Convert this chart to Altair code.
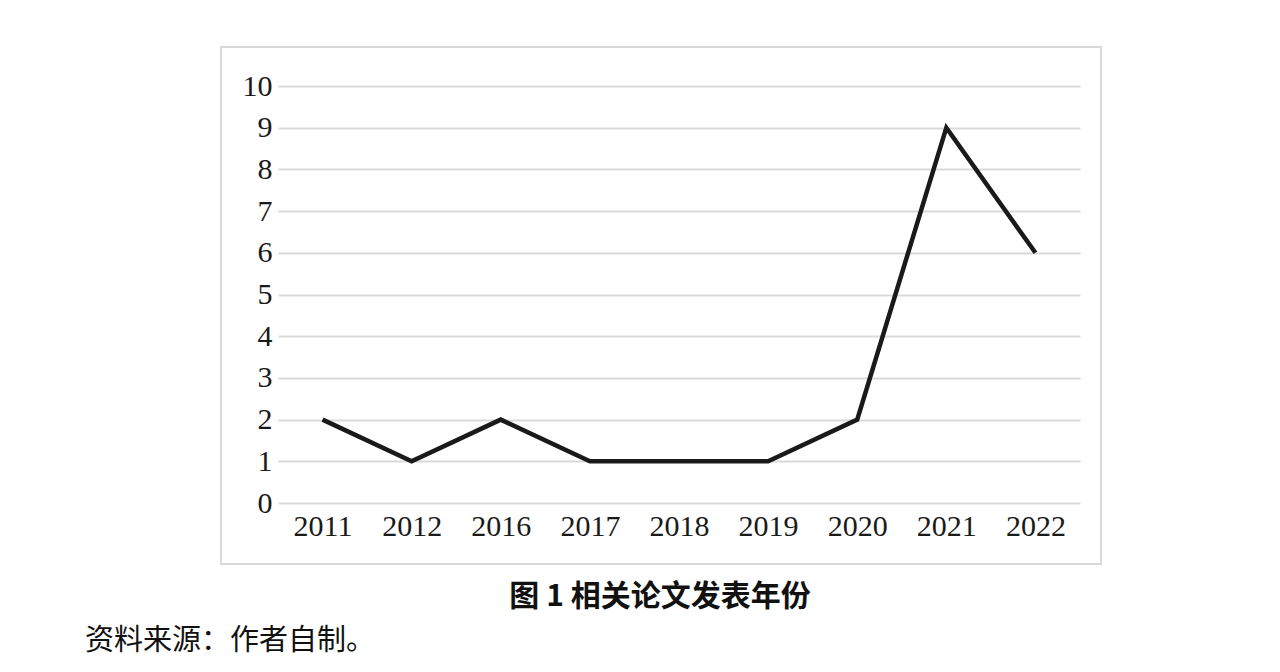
import altair as alt
import pandas as pd

years = ["2011", "2012", "2016", "2017", "2018", "2019", "2020", "2021", "2022"]
counts = [2, 1, 2, 1, 1, 1, 2, 9, 6]
y_ticks = list(range(0, 11))
caption = "图 1 相关论文发表年份"
source = "资料来源：作者自制。"

df = pd.DataFrame({"year": years, "count": counts})

W, H = 802, 417
SERIF = "Liberation Serif"
CJK = "Noto Sans CJK SC"

base = alt.Chart(df)

frame = base.mark_rect(fillOpacity=0, stroke="#d9d9d9", strokeWidth=2).encode(
    x=alt.value(-57), x2=alt.value(823), y=alt.value(-39), y2=alt.value(478)
)

line = base.mark_line(color="#1a1a1a", strokeWidth=4.5, strokeJoin="miter").encode(
    x=alt.X("year:N", sort=years, title=None,
            scale=alt.Scale(type="point", padding=0.5),
            axis=alt.Axis(labelAngle=0, labelFont=SERIF, labelFontSize=30,
                          labelColor="#1a1a1a", labelPadding=8, ticks=False,
                          domain=False, grid=False)),
    y=alt.Y("count:Q", title=None,
            scale=alt.Scale(domain=[0, 10], nice=False),
            axis=alt.Axis(values=y_ticks, labelFont=SERIF, labelFontSize=30,
                          labelColor="#1a1a1a", labelPadding=6, ticks=False,
                          domain=False, grid=True, gridColor="#d9d9d9",
                          gridWidth=2)),
)

cap = alt.Chart(pd.DataFrame({"t": [caption]})).mark_text(
    font=CJK, fontSize=30, fontWeight="bold", color="#111111", align="center", baseline="middle"
).encode(text="t:N", x=alt.value(382), y=alt.value(511))

src = alt.Chart(pd.DataFrame({"t": [source]})).mark_text(
    font=CJK, fontSize=29, color="#111111", align="left", baseline="middle"
).encode(text="t:N", x=alt.value(-193), y=alt.value(555))

chart = alt.layer(frame, line, cap, src).properties(
    width=W, height=H,
    autosize=alt.AutoSizeParams(type="none"),
    padding={"left": 270, "top": 78, "right": 180, "bottom": 150},
    background="white",
).configure_view(stroke=None)

chart.save("out.html", embed_options={"renderer": "svg", "actions": False})
